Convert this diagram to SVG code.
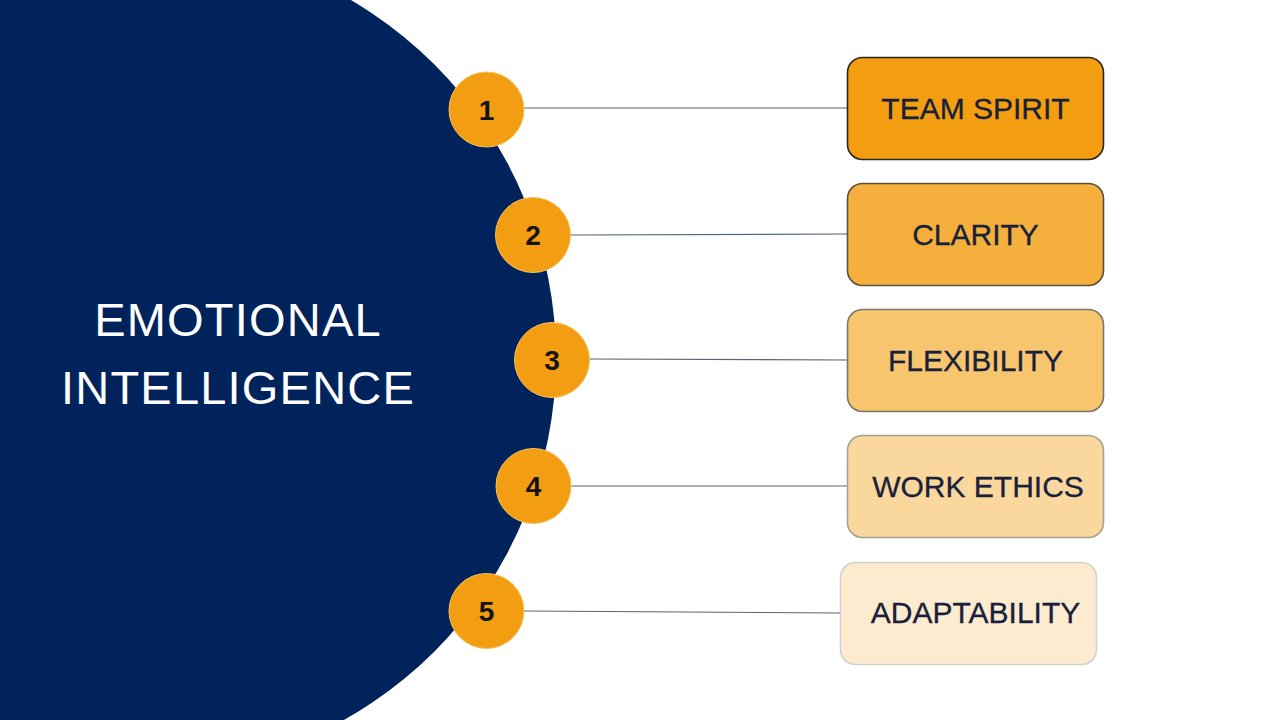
<svg xmlns="http://www.w3.org/2000/svg" width="1280" height="720" viewBox="0 0 1280 720">
<style>
.box text{font-family:"Liberation Sans",Arial,sans-serif;font-size:30px;fill:#18203a;text-anchor:middle;stroke:#18203a;stroke-width:0.3}
.num circle{fill:#F29D12;stroke:#F7C35A;stroke-width:1}
.num text{font-family:"Liberation Sans",Arial,sans-serif;font-size:28px;font-weight:bold;fill:#141414;text-anchor:middle}
.title{font-family:"Liberation Sans",Arial,sans-serif;font-size:47px;fill:#ffffff;text-anchor:middle;letter-spacing:1.2px}
#connectors line{stroke:#55657a;stroke-width:1.2}
</style>
<rect width="1280" height="720" fill="#ffffff"/>
<g id="main">
<circle cx="141" cy="358" r="415" fill="#00235B"/>
<text class="title" x="238" y="336">EMOTIONAL</text>
<text class="title" x="238" y="404">INTELLIGENCE</text>
</g>
<g id="connectors">
<line x1="524" y1="108" x2="848" y2="108"/>
<line x1="570" y1="235" x2="848" y2="234"/>
<line x1="589" y1="359" x2="848" y2="360"/>
<line x1="571" y1="486" x2="848" y2="486"/>
<line x1="524" y1="611" x2="840" y2="613"/>
</g>
<g id="n1" class="num"><circle cx="486.5" cy="109.5" r="37.5"/><text x="486.5" y="119.5">1</text></g>
<g id="n2" class="num"><circle cx="533" cy="235" r="37.5"/><text x="533" y="245">2</text></g>
<g id="n3" class="num"><circle cx="552" cy="360" r="37.5"/><text x="552" y="370">3</text></g>
<g id="n4" class="num"><circle cx="533.5" cy="486" r="37.5"/><text x="533.5" y="496">4</text></g>
<g id="n5" class="num"><circle cx="486.5" cy="611" r="37.5"/><text x="486.5" y="621">5</text></g>
<g id="b1" class="box"><rect x="847.5" y="57.5" width="256" height="102" rx="15" fill="#F39E11" stroke="#2a2520" stroke-width="1.6"/><text x="975.5" y="119">TEAM SPIRIT</text></g>
<g id="b2" class="box"><rect x="847.5" y="183.5" width="256" height="102" rx="15" fill="#F4AF3D" stroke="#5a5040" stroke-width="1.6"/><text x="975.5" y="245">CLARITY</text></g>
<g id="b3" class="box"><rect x="847.5" y="309.5" width="256" height="102" rx="15" fill="#F7C56D" stroke="#7d7568" stroke-width="1.6"/><text x="975.5" y="371">FLEXIBILITY</text></g>
<g id="b4" class="box"><rect x="847.5" y="435.5" width="256" height="102" rx="15" fill="#FAD89D" stroke="#a8a090" stroke-width="1.6"/><text x="978" y="497">WORK ETHICS</text></g>
<g id="b5" class="box"><rect x="840.5" y="562.5" width="256" height="102" rx="15" fill="#FDEBD0" stroke="#d2d2cc" stroke-width="1.6"/><text x="975.5" y="623">ADAPTABILITY</text></g>
</svg>
